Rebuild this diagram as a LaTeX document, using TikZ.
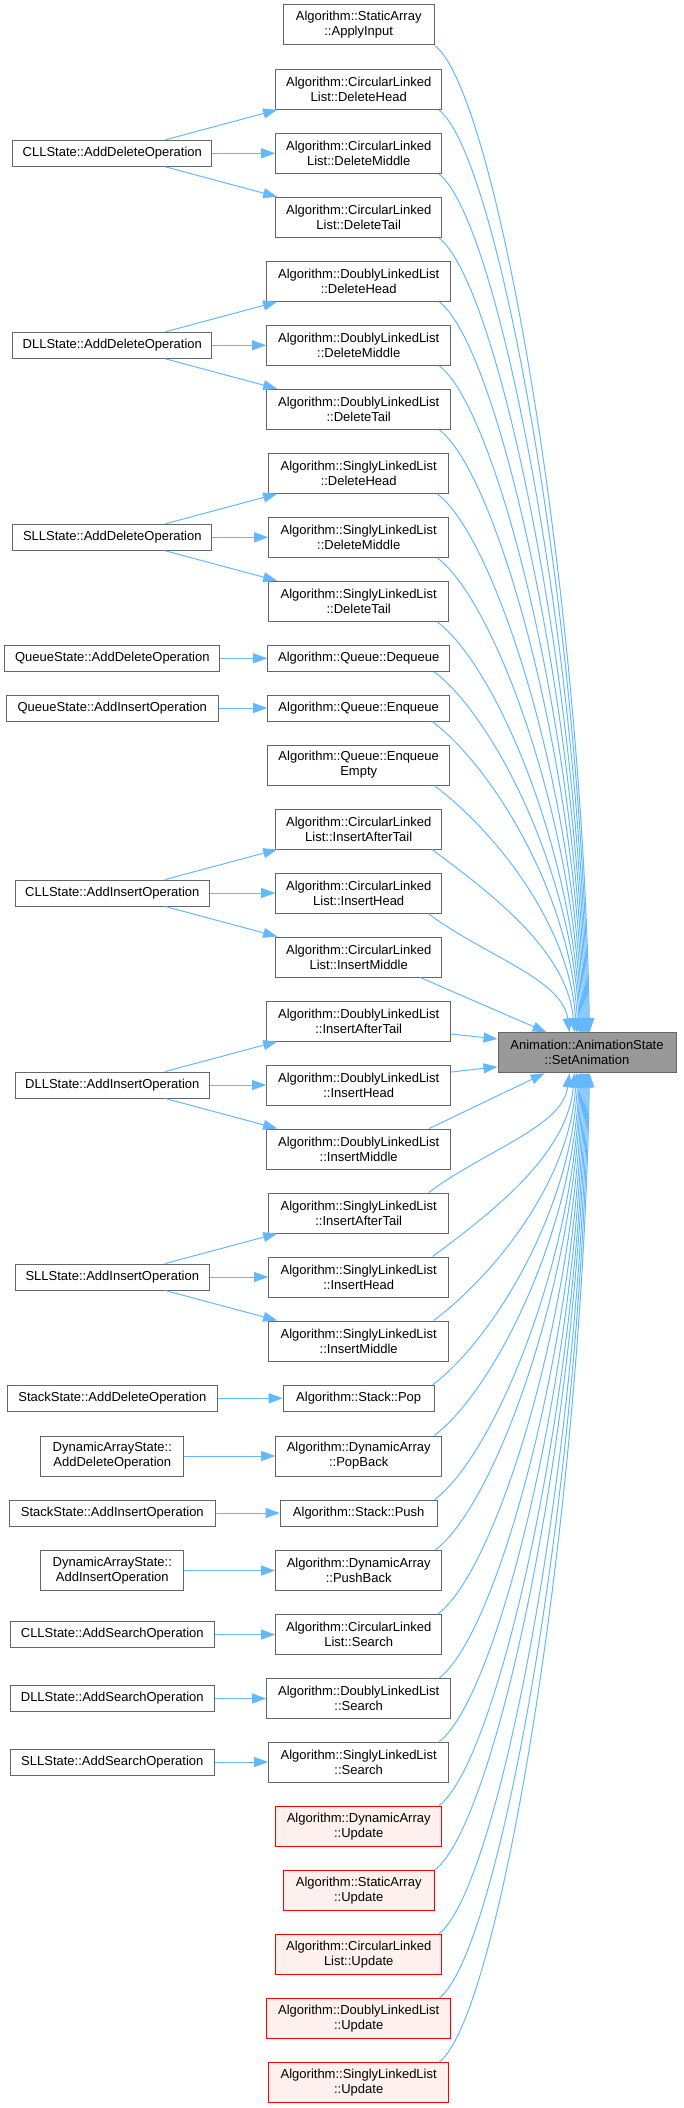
\documentclass[tikz,border=0pt]{standalone}
\usepackage{fontspec}
\setmainfont{Liberation Sans}
\usetikzlibrary{arrows.meta,calc}
\definecolor{edgeblue}{HTML}{63B8FF}
\definecolor{boxgray}{HTML}{666666}
\definecolor{hlgray}{HTML}{999999}
\definecolor{redfill}{HTML}{FFF0F0}
\tikzset{
  box/.style={draw=boxgray, line width=1pt, fill=white, inner sep=0pt, align=center,
    minimum height=40pt, font=\fontsize{13}{15}\selectfont},
  onel/.style={minimum height=26pt},
  redbox/.style={draw=red, fill=redfill},
  hlbox/.style={fill=hlgray},
  edge/.style={draw=edgeblue, line width=1pt, -{Triangle[length=14pt,width=10pt]}},
}
\newcommand\downcurve[3]{%
  \draw[edge] let \p1=([xshift=#2pt]#1.south east), \p2=([xshift=#3pt]sa.north west) in
  (\p1) .. controls ({\x1+0.4*(\x2-\x1)},{\y1-0.3*(\x2-\x1)}) and ({\x2-0.05*(\x2-\x1)},{\y2+0.45*(\y1-\y2)}) .. (\p2);}
\newcommand\upcurve[3]{%
  \draw[edge] let \p1=([xshift=#2pt]#1.north east), \p2=([xshift=#3pt]sa.south west) in
  (\p1) .. controls ({\x1+0.4*(\x2-\x1)},{\y1+0.3*(\x2-\x1)}) and ({\x2-0.05*(\x2-\x1)},{\y2-0.45*(\y2-\y1)}) .. (\p2);}
\begin{document}
\begin{tikzpicture}[x=1pt,y=-1pt]
\useasboundingbox (0,0) rectangle (683,2108);
% target
\node[box,hlbox,minimum width=178pt] (sa) at (587,1052.8) {Animation::AnimationState\\::SetAnimation};
% middle column
\node[box,minimum width=151pt] (saAI) at (358.7,25) {Algorithm::StaticArray\\::ApplyInput};
\node[box,minimum width=166pt] (cllDH) at (358.7,89.3) {Algorithm::CircularLinked\\List::DeleteHead};
\node[box,minimum width=166pt] (cllDM) at (358.7,153.3) {Algorithm::CircularLinked\\List::DeleteMiddle};
\node[box,minimum width=166pt] (cllDT) at (358.7,217.3) {Algorithm::CircularLinked\\List::DeleteTail};
\node[box,minimum width=184pt] (dllDH) at (358.7,281.3) {Algorithm::DoublyLinkedList\\::DeleteHead};
\node[box,minimum width=184pt] (dllDM) at (358.7,345.3) {Algorithm::DoublyLinkedList\\::DeleteMiddle};
\node[box,minimum width=184pt] (dllDT) at (358.7,409.3) {Algorithm::DoublyLinkedList\\::DeleteTail};
\node[box,minimum width=180pt] (sllDH) at (358.7,473.3) {Algorithm::SinglyLinkedList\\::DeleteHead};
\node[box,minimum width=180pt] (sllDM) at (358.7,537.3) {Algorithm::SinglyLinkedList\\::DeleteMiddle};
\node[box,minimum width=180pt] (sllDT) at (358.7,601.3) {Algorithm::SinglyLinkedList\\::DeleteTail};
\node[box,onel,minimum width=182pt] (qDeq) at (358.7,658.3) {Algorithm::Queue::Dequeue};
\node[box,onel,minimum width=182pt] (qEnq) at (358.7,708) {Algorithm::Queue::Enqueue};
\node[box,minimum width=182pt] (qEnqE) at (358.7,765) {Algorithm::Queue::Enqueue\\Empty};
\node[box,minimum width=166pt] (cllIAT) at (358.7,829) {Algorithm::CircularLinked\\List::InsertAfterTail};
\node[box,minimum width=166pt] (cllIH) at (358.7,893) {Algorithm::CircularLinked\\List::InsertHead};
\node[box,minimum width=166pt] (cllIM) at (358.7,957) {Algorithm::CircularLinked\\List::InsertMiddle};
\node[box,minimum width=184pt] (dllIAT) at (358.7,1021) {Algorithm::DoublyLinkedList\\::InsertAfterTail};
\node[box,minimum width=184pt] (dllIH) at (358.7,1085) {Algorithm::DoublyLinkedList\\::InsertHead};
\node[box,minimum width=184pt] (dllIM) at (358.7,1149) {Algorithm::DoublyLinkedList\\::InsertMiddle};
\node[box,minimum width=180pt] (sllIAT) at (358.7,1213) {Algorithm::SinglyLinkedList\\::InsertAfterTail};
\node[box,minimum width=180pt] (sllIH) at (358.7,1277) {Algorithm::SinglyLinkedList\\::InsertHead};
\node[box,minimum width=180pt] (sllIM) at (358.7,1341) {Algorithm::SinglyLinkedList\\::InsertMiddle};
\node[box,onel,minimum width=151pt] (stPop) at (358.7,1398.3) {Algorithm::Stack::Pop};
\node[box,minimum width=166pt] (daPB) at (358.7,1456) {Algorithm::DynamicArray\\::PopBack};
\node[box,onel,minimum width=157pt] (stPush) at (358.7,1513) {Algorithm::Stack::Push};
\node[box,minimum width=166pt] (daPush) at (358.7,1570.5) {Algorithm::DynamicArray\\::PushBack};
\node[box,minimum width=166pt] (cllS) at (358.7,1634.5) {Algorithm::CircularLinked\\List::Search};
\node[box,minimum width=184pt] (dllS) at (358.7,1698.5) {Algorithm::DoublyLinkedList\\::Search};
\node[box,minimum width=180pt] (sllS) at (358.7,1762) {Algorithm::SinglyLinkedList\\::Search};
\node[box,redbox,minimum width=166pt] (daUp) at (358.7,1826.5) {Algorithm::DynamicArray\\::Update};
\node[box,redbox,minimum width=151pt] (saUp) at (358.7,1890.5) {Algorithm::StaticArray\\::Update};
\node[box,redbox,minimum width=166pt] (cllUp) at (358.7,1954.5) {Algorithm::CircularLinked\\List::Update};
\node[box,redbox,minimum width=184pt] (dllUp) at (358.7,2018.5) {Algorithm::DoublyLinkedList\\::Update};
\node[box,redbox,minimum width=180pt] (sllUp) at (358.7,2082.5) {Algorithm::SinglyLinkedList\\::Update};
% left column
\node[box,onel,minimum width=199pt] (cllADO) at (112.3,153.3) {CLLState::AddDeleteOperation};
\node[box,onel,minimum width=199pt] (dllADO) at (112.3,345.3) {DLLState::AddDeleteOperation};
\node[box,onel,minimum width=199pt] (sllADO) at (112.3,537.3) {SLLState::AddDeleteOperation};
\node[box,onel,minimum width=215pt] (qADO) at (112.3,658.3) {QueueState::AddDeleteOperation};
\node[box,onel,minimum width=211.6pt] (qAIO) at (112.3,708) {QueueState::AddInsertOperation};
\node[box,onel,minimum width=194.5pt] (cllAIO) at (112.3,893) {CLLState::AddInsertOperation};
\node[box,onel,minimum width=194.5pt] (dllAIO) at (112.3,1085) {DLLState::AddInsertOperation};
\node[box,onel,minimum width=194.5pt] (sllAIO) at (112.3,1277) {SLLState::AddInsertOperation};
\node[box,onel,minimum width=210pt] (stADO) at (112.3,1398.3) {StackState::AddDeleteOperation};
\node[box,minimum width=143pt] (daADO) at (112.3,1456) {DynamicArrayState::\\AddDeleteOperation};
\node[box,onel,minimum width=206pt] (stAIO) at (112.3,1513) {StackState::AddInsertOperation};
\node[box,minimum width=143pt] (daAIO) at (112.3,1570.5) {DynamicArrayState::\\AddInsertOperation};
\node[box,onel,minimum width=203.6pt] (cllASO) at (112.3,1634.5) {CLLState::AddSearchOperation};
\node[box,onel,minimum width=203.6pt] (dllASO) at (112.3,1698.5) {DLLState::AddSearchOperation};
\node[box,onel,minimum width=203.6pt] (sllASO) at (112.3,1762) {SLLState::AddSearchOperation};
% left -> middle edges
\draw[edge] ([xshift=53pt]cllADO.north) -- ([xshift=2pt]cllDH.south west);
\draw[edge] (cllADO.east) -- (cllDM.west);
\draw[edge] ([xshift=53pt]cllADO.south) -- ([xshift=2pt]cllDT.north west);
\draw[edge] ([xshift=53pt]dllADO.north) -- ([xshift=11pt]dllDH.south west);
\draw[edge] (dllADO.east) -- (dllDM.west);
\draw[edge] ([xshift=53pt]dllADO.south) -- ([xshift=11pt]dllDT.north west);
\draw[edge] ([xshift=53pt]sllADO.north) -- ([xshift=9pt]sllDH.south west);
\draw[edge] (sllADO.east) -- (sllDM.west);
\draw[edge] ([xshift=53pt]sllADO.south) -- ([xshift=9pt]sllDT.north west);
\draw[edge] (qADO.east) -- (qDeq.west);
\draw[edge] (qAIO.east) -- (qEnq.west);
\draw[edge] ([xshift=53pt]cllAIO.north) -- ([xshift=2pt]cllIAT.south west);
\draw[edge] (cllAIO.east) -- (cllIH.west);
\draw[edge] ([xshift=53pt]cllAIO.south) -- ([xshift=2pt]cllIM.north west);
\draw[edge] ([xshift=53pt]dllAIO.north) -- ([xshift=11pt]dllIAT.south west);
\draw[edge] (dllAIO.east) -- (dllIH.west);
\draw[edge] ([xshift=53pt]dllAIO.south) -- ([xshift=11pt]dllIM.north west);
\draw[edge] ([xshift=53pt]sllAIO.north) -- ([xshift=9pt]sllIAT.south west);
\draw[edge] (sllAIO.east) -- (sllIH.west);
\draw[edge] ([xshift=53pt]sllAIO.south) -- ([xshift=9pt]sllIM.north west);
\draw[edge] (stADO.east) -- (stPop.west);
\draw[edge] (daADO.east) -- (daPB.west);
\draw[edge] (stAIO.east) -- (stPush.west);
\draw[edge] (daAIO.east) -- (daPush.west);
\draw[edge] (cllASO.east) -- (cllS.west);
\draw[edge] (dllASO.east) -- (dllS.west);
\draw[edge] (sllASO.east) -- (sllS.west);
% middle -> target (upper group)
\downcurve{saAI}{0}{92}
\downcurve{cllDH}{-3.5}{91}
\downcurve{cllDM}{-3.5}{90}
\downcurve{cllDT}{-3.5}{89}
\downcurve{dllDH}{-12}{88}
\downcurve{dllDM}{-12}{87}
\downcurve{dllDT}{-12}{86}
\downcurve{sllDH}{-12}{85}
\downcurve{sllDM}{-12}{84}
\downcurve{sllDT}{-12}{83}
\downcurve{qDeq}{-16}{82}
\downcurve{qEnq}{-18}{80.5}
\downcurve{qEnqE}{-16}{79}
\downcurve{cllIAT}{-10}{77}
\downcurve{cllIH}{-14}{72}
\draw[edge] ([xshift=-22pt]cllIM.south east) -- ([xshift=49pt]sa.north west);
\draw[edge] ([yshift=-13pt]dllIAT.east) -- ([yshift=13.8pt]sa.west);
% middle -> target (lower group)
\draw[edge] ([yshift=13pt]dllIH.east) -- ([yshift=-14pt]sa.west);
\draw[edge] ([xshift=-22pt]dllIM.north east) -- ([xshift=47pt]sa.south west);
\upcurve{sllIAT}{-20.5}{72}
\upcurve{sllIH}{-16.5}{77}
\upcurve{sllIM}{-15.5}{79}
\upcurve{stPop}{-2}{80.5}
\upcurve{daPB}{-8}{82}
\upcurve{stPush}{-3}{83}
\upcurve{daPush}{-7}{84}
\upcurve{cllS}{-4.3}{85}
\upcurve{dllS}{-12}{86}
\upcurve{sllS}{-10}{87}
\upcurve{daUp}{-3.5}{88}
\upcurve{saUp}{0}{89}
\upcurve{cllUp}{-3.5}{90}
\upcurve{dllUp}{-12}{91}
\upcurve{sllUp}{-10}{92}
\end{tikzpicture}
\end{document}
